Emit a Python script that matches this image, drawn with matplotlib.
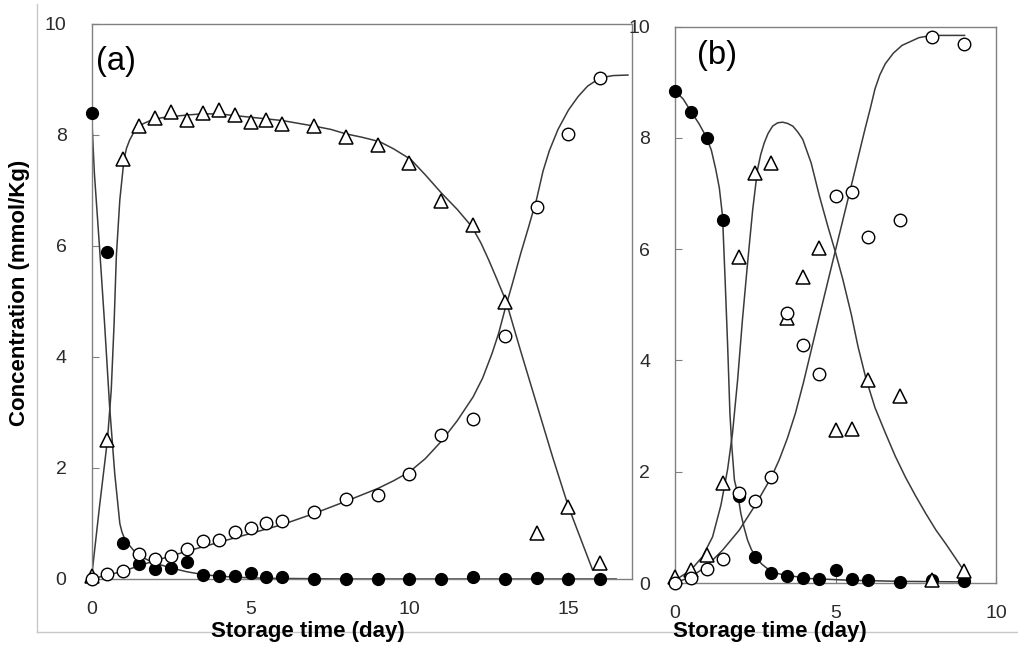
"""Concentration vs storage time for two storage conditions, (a) and (b)."""

import matplotlib.pyplot as plt
from matplotlib.lines import Line2D

plt.rcParams["font.family"] = ["Liberation Sans", "DejaVu Sans"]

# ---- panel (a): measured points ----
days_a = [0, 0.5, 1, 1.5, 2, 2.5, 3, 3.5, 4, 4.5, 5, 5.5, 6, 7, 8, 9, 10, 11, 12, 13, 14, 15, 16]
filled_a = [8.4, 5.9, 0.65, 0.27, 0.18, 0.19, 0.3, 0.08, 0.06, 0.06, 0.1, 0.04, 0.04,
            0.0, 0.0, 0.0, 0.0, 0.0, 0.03, 0.0, 0.02, 0.0, 0.0]
open_a = [0, 0.09, 0.15, 0.45, 0.36, 0.42, 0.54, 0.69, 0.7, 0.85, 0.92, 1.0, 1.05,
          1.21, 1.44, 1.51, 1.89, 2.59, 2.88, 4.38, 6.7, 8.02, 9.03]
tri_a = [0.05, 2.5, 7.57, 8.16, 8.3, 8.42, 8.27, 8.4, 8.45, 8.36, 8.24, 8.27, 8.2,
         8.16, 7.96, 7.82, 7.5, 6.81, 6.38, 4.99, 0.83, 1.3, 0.29]

# ---- panel (a): fitted model curves ----
fit_a_filled_x = [0, 0.09, 0.25, 0.41, 0.57, 0.73, 0.89, 0.96, 1.04, 1.2, 1.36, 1.6,
                  1.89, 2.2, 2.5, 3.0, 3.5, 4.0, 5.0, 6.0, 8.0, 12.0, 16.5]
fit_a_filled_y = [8.4, 7.31, 5.99, 4.61, 3.1, 1.9, 1.0, 0.84, 0.73, 0.6, 0.49, 0.39,
                  0.31, 0.25, 0.2, 0.13, 0.08, 0.05, 0.02, 0.01, 0.0, 0.0, 0.0]
fit_a_tri_x = [0, 0.25, 0.5, 0.62, 0.71, 0.78, 0.89, 1.02, 1.1, 1.2, 1.32, 1.47, 1.65,
               1.89, 2.2, 2.52, 3.0, 3.47, 4.0, 5.0, 6.0, 7.0, 7.53, 8.0, 8.5, 9.06,
               9.5, 10.04, 10.5, 11.01, 11.5, 11.96, 12.25, 12.49, 12.75, 13.04, 13.5,
               14.0, 14.5, 15.0, 15.5, 15.76]
fit_a_tri_y = [0.02, 1.3, 2.5, 3.4, 4.6, 5.81, 6.83, 7.55, 7.76, 7.91, 8.04, 8.15, 8.21,
               8.27, 8.31, 8.33, 8.36, 8.38, 8.38, 8.32, 8.26, 8.16, 8.1, 8.02, 7.96,
               7.88, 7.75, 7.56, 7.28, 6.95, 6.66, 6.35, 6.05, 5.75, 5.4, 5.0, 4.1,
               3.15, 2.2, 1.3, 0.55, 0.16]
fit_a_open_x = [0, 0.5, 1, 1.5, 2, 3, 4, 5, 6, 7, 8, 9, 9.5, 10, 10.5, 11, 11.5, 12,
                12.3, 12.6, 12.8, 13, 13.25, 13.5, 13.75, 14.0, 14.2, 14.4, 14.67, 15.0,
                15.3, 15.6, 16.0, 16.4, 16.87]
fit_a_open_y = [0, 0.07, 0.14, 0.24, 0.33, 0.5, 0.66, 0.82, 0.98, 1.18, 1.4, 1.63, 1.77,
                1.93, 2.17, 2.48, 2.85, 3.28, 3.62, 4.07, 4.42, 4.85, 5.35, 5.87, 6.35,
                6.85, 7.35, 7.72, 8.1, 8.45, 8.69, 8.88, 9.03, 9.07, 9.08]

# ---- panel (b): measured points ----
days_b = [0, 0.5, 1, 1.5, 2, 2.5, 3, 3.5, 4, 4.5, 5, 5.5, 6, 7, 8, 9]
filled_b = [8.84, 8.47, 8.0, 6.53, 1.56, 0.47, 0.18, 0.13, 0.09, 0.07, 0.23, 0.07,
            0.05, 0.02, 0.05, 0.04]
open_b = [0, 0.09, 0.25, 0.43, 1.61, 1.47, 1.91, 4.85, 4.27, 3.76, 6.95, 7.02, 6.22,
          6.53, 9.82, 9.69]
tri_b = [0.1, 0.23, 0.5, 1.8, 5.86, 7.37, 7.55, 4.77, 5.5, 6.02, 2.75, 2.77, 3.65,
         3.36, 0.05, 0.22]

# ---- panel (b): fitted model curves ----
fit_b_filled_x = [0, 0.25, 0.49, 0.75, 0.96, 1.13, 1.27, 1.38, 1.48, 1.56, 1.64, 1.71,
                  1.77, 1.85, 1.95, 2.05, 2.15, 2.26, 2.38, 2.52, 2.7, 2.94, 3.2, 3.46,
                  4.19, 5.44, 7.0, 9.0]
fit_b_filled_y = [8.84, 8.7, 8.48, 8.25, 8.03, 7.78, 7.43, 7.1, 6.59, 5.45, 4.25, 3.05,
                  2.45, 1.85, 1.61, 1.25, 1.0, 0.77, 0.6, 0.47, 0.34, 0.23, 0.17, 0.14,
                  0.08, 0.05, 0.03, 0.02]
fit_b_tri_x = [0, 0.49, 0.85, 1.17, 1.43, 1.64, 1.79, 1.95, 2.1, 2.26, 2.42, 2.57, 2.67,
               2.78, 2.9, 3.04, 3.2, 3.35, 3.5, 3.67, 3.83, 3.98, 4.24, 4.5, 4.76, 4.99,
               5.23, 5.49, 5.7, 5.95, 6.23, 6.55, 6.86, 7.18, 7.49, 7.81, 8.13, 8.44,
               8.71, 8.99]
fit_b_tri_y = [0.05, 0.23, 0.47, 0.83, 1.4, 2.05, 2.69, 3.65, 4.73, 5.75, 6.71, 7.43,
               7.7, 7.91, 8.08, 8.21, 8.27, 8.28, 8.26, 8.21, 8.1, 7.97, 7.55, 6.95,
               6.41, 5.96, 5.45, 4.83, 4.25, 3.67, 3.15, 2.7, 2.28, 1.9, 1.57, 1.25,
               0.95, 0.7, 0.47, 0.23]
fit_b_open_x = [0, 0.49, 0.96, 1.48, 2.0, 2.5, 3.0, 3.25, 3.5, 3.75, 4.0, 4.25, 4.5,
                4.99, 5.44, 5.92, 6.08, 6.23, 6.38, 6.55, 6.8, 7.07, 7.6, 7.99, 9.02]
fit_b_open_y = [0, 0.11, 0.29, 0.59, 0.95, 1.4, 1.9, 2.22, 2.6, 3.05, 3.6, 4.2, 4.8,
                5.96, 7.02, 8.16, 8.52, 8.88, 9.13, 9.33, 9.52, 9.66, 9.8, 9.84, 9.84]

LINE_COLOR = "#3a3a3a"
FRAME_COLOR = "#808080"
TICK_COLOR = "#2b2b2b"


def draw_panel(ax, days, filled, opened, tri, fits, xmax, xticks, tag, tag_xy):
    for fx, fy in fits:
        ax.plot(fx, fy, color=LINE_COLOR, linewidth=1.1, zorder=2)

    ax.plot(days, filled, linestyle="none", marker="o", markersize=8.5,
            markerfacecolor="black", markeredgecolor="black", zorder=3, clip_on=False)
    ax.plot(days, tri, linestyle="none", marker="^", markersize=9.5,
            markerfacecolor="white", markeredgecolor="black", markeredgewidth=1.1,
            zorder=4, clip_on=False)
    ax.plot(days, opened, linestyle="none", marker="o", markersize=9,
            markerfacecolor="white", markeredgecolor="black", markeredgewidth=1.0,
            zorder=5, clip_on=False)

    ax.set_xlim(0, xmax)
    ax.set_ylim(0, 10)
    ax.set_xticks(xticks)
    ax.set_yticks([0, 2, 4, 6, 8, 10])
    ax.tick_params(direction="in", length=5, width=0.8, color=FRAME_COLOR,
                   labelsize=14, labelcolor=TICK_COLOR)
    ax.tick_params(axis="y", pad=18)
    ax.tick_params(axis="x", pad=16)
    for side in ax.spines.values():
        side.set_color(FRAME_COLOR)
        side.set_linewidth(1.0)
    ax.text(tag_xy[0], tag_xy[1], tag, transform=ax.transAxes, fontsize=23.5,
            va="center", ha="left")


fig = plt.figure(figsize=(10.18, 6.48), dpi=100)

# outer chart frame (left and bottom edges)
fig.add_artist(Line2D([0.0363, 0.0363], [0.9938, 0.0247], color="#c8c8c8", linewidth=1.0))
fig.add_artist(Line2D([0.0363, 1.0], [0.0247, 0.0247], color="#c8c8c8", linewidth=1.0))

ax_a = fig.add_axes([0.0899, 0.1065, 0.5310, 0.8565])
draw_panel(ax_a, days_a, filled_a, open_a, tri_a,
           [(fit_a_filled_x, fit_a_filled_y), (fit_a_tri_x, fit_a_tri_y),
            (fit_a_open_x, fit_a_open_y)],
           17, [0, 5, 10, 15], "(a)", (0.008, 0.932))

ax_b = fig.add_axes([0.6631, 0.1003, 0.3153, 0.8588])
draw_panel(ax_b, days_b, filled_b, open_b, tri_b,
           [(fit_b_filled_x, fit_b_filled_y), (fit_b_tri_x, fit_b_tri_y),
            (fit_b_open_x, fit_b_open_y)],
           10, [0, 5, 10], "(b)", (0.068, 0.948))

fig.text(0.0196, 0.548, "Concentration (mmol/Kg)", rotation=90, fontsize=16,
         fontweight="bold", ha="center", va="center")
fig.text(0.3026, 0.0247, "Storage time (day)", fontsize=16, fontweight="bold",
         ha="center", va="center")
fig.text(0.7564, 0.0247, "Storage time (day)", fontsize=16, fontweight="bold",
         ha="center", va="center")

fig.savefig("out.png", dpi=100)
